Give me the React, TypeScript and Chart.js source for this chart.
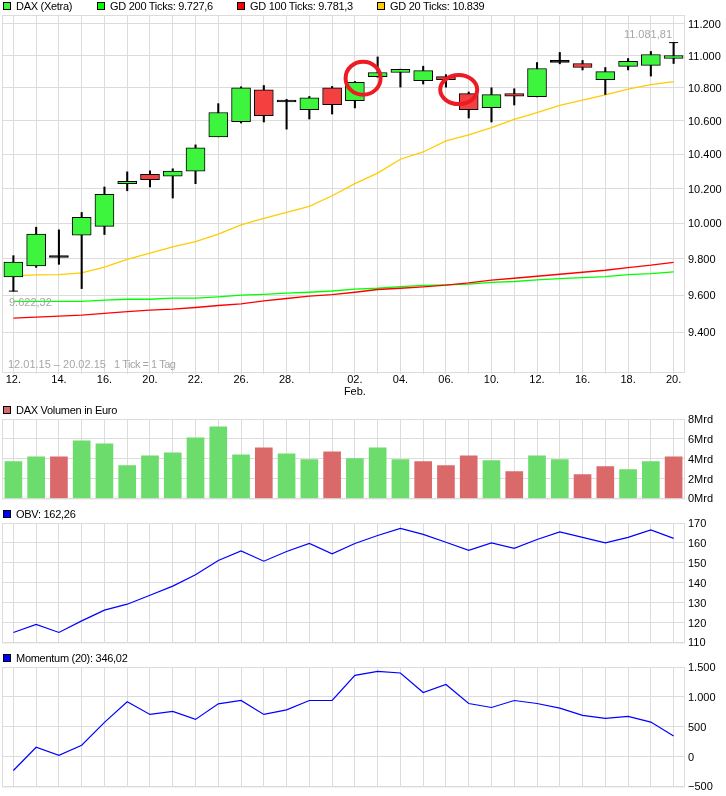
import { useEffect, useRef } from 'react'
import Chart from 'chart.js/auto'

const days = ['12.', '13.', '14.', '15.', '16.', '19.', '20.', '21.', '22.', '23.', '26.', '27.', '28.', '29.', '30.', '02.', '03.', '04.', '05.', '06.', '09.', '10.', '11.', '12.', '13.', '16.', '17.', '18.', '19.', '20.']
const shownDays = [0, 2, 4, 6, 8, 10, 12, 15, 17, 19, 21, 23, 25, 27, 29]

const opens = [9700, 9761, 9808, 9933, 9983, 10228, 10283, 10272, 10301, 10504, 10595, 10789, 10714, 10668, 10801, 10722, 10870, 10895, 10845, 10870, 10765, 10680, 10765, 10747, 10958, 10951, 10851, 10933, 10939, 10982]
const closes = [9783, 9939, 9818, 10034, 10167, 10242, 10252, 10301, 10438, 10650, 10801, 10631, 10726, 10740, 10698, 10834, 10895, 10914, 10907, 10851, 10668, 10759, 10750, 10920, 10970, 10926, 10901, 10964, 11007, 11001]
const highs = [9818, 9978, 9963, 10062, 10209, 10297, 10303, 10315, 10456, 10704, 10807, 10815, 10730, 10748, 10809, 10840, 10992, 10916, 10934, 10882, 10775, 10801, 10795, 10957, 11020, 10970, 10926, 10982, 11026, 11081.81]
const lows = [9622.32, 9753, 9770, 9636, 9937, 10187, 10209, 10145, 10228, 10504, 10587, 10593, 10550, 10611, 10641, 10678, 10866, 10805, 10824, 10805, 10617, 10593, 10696, 10745, 10949, 10911, 10760, 10911, 10873, 10951]
const dojis = [2, 12, 24]

const gd20 = [9706, 9712, 9713, 9723, 9754, 9797, 9832, 9867, 9897, 9939, 9991, 10028, 10062, 10097, 10158, 10228, 10290, 10371, 10414, 10480, 10516, 10559, 10609, 10649, 10694, 10726, 10757, 10792, 10820, 10839]
const gd100 = [9476, 9481, 9487, 9492, 9501, 9511, 9519, 9524, 9533, 9544, 9553, 9569, 9582, 9595, 9603, 9616, 9631, 9638, 9646, 9655, 9667, 9682, 9693, 9704, 9715, 9726, 9737, 9752, 9765, 9781.3]
const gd200 = [9566, 9566, 9566, 9566, 9573, 9578, 9578, 9584, 9584, 9591, 9600, 9605, 9611, 9616, 9623, 9633, 9638, 9647, 9654, 9657, 9661, 9670, 9675, 9684, 9691, 9696, 9702, 9713, 9718, 9727.6]

const volumes = [3.7, 4.2, 4.2, 5.8, 5.5, 3.3, 4.3, 4.6, 6.1, 7.2, 4.4, 5.1, 4.5, 3.9, 4.7, 4.0, 5.1, 3.9, 3.7, 3.3, 4.3, 3.8, 2.7, 4.3, 3.9, 2.4, 3.2, 2.9, 3.7, 4.2]
const volumeDown = [2, 11, 14, 18, 19, 20, 22, 25, 26, 29]

const obv = [115, 119, 115, 120.8, 126.2, 129.2, 133.7, 138.3, 144, 151.2, 156, 150.8, 155.7, 159.7, 154.5, 159.7, 163.7, 167.3, 164.3, 160.3, 156.3, 160, 157.3, 161.7, 165.5, 162.8, 160, 162.8, 166.5, 162.26]
const momentum = [-233, 156, 22, 189, 572, 917, 706, 756, 622, 883, 939, 706, 783, 939, 939, 1361, 1428, 1400, 1072, 1206, 889, 822, 939, 889, 811, 689, 639, 672, 578, 346.02]

const priceTicks = [11200, 11000, 10800, 10600, 10400, 10200, 10000, 9800, 9600, 9400]
const volumeTicks = [8, 6, 4, 2, 0]
const obvTicks = [170, 160, 150, 140, 130, 120, 110]
const momentumTicks = [1500, 1000, 500, 0, -500]

const GRID = '#dcdcdc'
const FONT = { family: '"Liberation Sans", Arial, sans-serif', size: 11 }
const CANDLE_UP = '#3df53d'
const CANDLE_DOWN = '#f54040'
const NOTE = '#a6a6a6'

// plot frame, the axes only give the inner lines
const framePlugin = {
  id: 'frame',
  beforeDatasetsDraw(chart: any) {
    const { ctx, chartArea: a } = chart
    ctx.save()
    ctx.strokeStyle = GRID
    ctx.lineWidth = 1
    ctx.strokeRect(a.left + 0.5, a.top + 0.5, a.right - a.left - 1, a.bottom - a.top)
    ctx.restore()
  },
}

// grey notes and the two hand drawn circles of the price panel
const notesPlugin = {
  id: 'notes',
  afterDatasetsDraw(chart: any) {
    const { ctx, scales } = chart
    ctx.save()
    ctx.font = `11px ${FONT.family}`
    ctx.fillStyle = NOTE
    ctx.textBaseline = 'middle'
    ctx.textAlign = 'left'
    ctx.fillText('12.01.15 – 20.02.15', 8, 365)
    ctx.fillText('9.622,32', 9, 303)
    ctx.letterSpacing = '-0.5px'
    ctx.fillText('1 Tick = 1 Tag', 114, 365)
    ctx.letterSpacing = '0px'
    ctx.textAlign = 'right'
    ctx.fillText('11.081,81', 672, 35)
    ctx.strokeStyle = '#ed1c24'
    ctx.lineWidth = 4
    ctx.beginPath()
    ctx.ellipse(scales.x.getPixelForValue(15.36), scales.y.getPixelForValue(10860), 17.5, 16.5, 0, 0, Math.PI * 2)
    ctx.stroke()
    ctx.beginPath()
    ctx.ellipse(scales.x.getPixelForValue(19.56), scales.y.getPixelForValue(10790), 18.5, 14.5, 0, 0, Math.PI * 2)
    ctx.stroke()
    ctx.restore()
  },
}

function panelOptions(yScale: any, paddingTop: number, paddingBottom: number, xHeight: number, showDays: boolean) {
  return {
    responsive: false,
    animation: false as const,
    devicePixelRatio: 1,
    layout: { autoPadding: false, padding: { left: 2, right: 0, top: paddingTop, bottom: paddingBottom } },
    plugins: { legend: { display: false }, tooltip: { enabled: false } },
    scales: {
      x: {
        offset: true,
        border: { display: false },
        grid: { color: GRID, offset: false, drawTicks: showDays, tickLength: 2, tickColor: GRID },
        ticks: {
          display: showDays,
          autoSkip: false,
          maxRotation: 0,
          padding: 0,
          color: '#000',
          font: { ...FONT, lineHeight: '12px' },
          callback: (_: any, i: number) => {
            if (!shownDays.includes(i)) return ''
            return i === 15 ? [days[i], 'Feb.'] : days[i]
          },
        },
        afterFit: (s: any) => { s.height = xHeight },
      },
      y: {
        position: 'right' as const,
        border: { display: false },
        grid: { color: GRID, drawTicks: false },
        ticks: {
          padding: 3,
          labelOffset: 1,
          color: '#000',
          font: FONT,
          autoSkip: false,
          callback: (v: number) => v.toLocaleString('de-DE').replace('-', '−'),
        },
        afterFit: (s: any) => { s.width = 41 },
        ...yScale,
      },
    },
  }
}

function fixedTicks(values: number[]) {
  return (s: any) => { s.ticks = values.map(value => ({ value })) }
}

function candleColor(i: number) {
  if (dojis.includes(i)) return '#000'
  return closes[i] < opens[i] ? CANDLE_DOWN : CANDLE_UP
}

const panels: { top: number; height: number; config: any; plugins: any[] }[] = [
  {
    top: 0,
    height: 396,
    plugins: [framePlugin, notesPlugin],
    config: {
      type: 'bar',
      data: {
        labels: days,
        datasets: [
          { type: 'line', data: gd20, borderColor: '#ffcc00', borderWidth: 1.3, pointRadius: 0, order: 5 },
          { type: 'line', data: gd200, borderColor: '#00ff00', borderWidth: 1.3, pointRadius: 0, order: 4 },
          { type: 'line', data: gd100, borderColor: '#ff0000', borderWidth: 1.3, pointRadius: 0, order: 3 },
          {
            data: days.map((_, i) => [lows[i], highs[i]]),
            backgroundColor: '#000',
            borderWidth: 0,
            barThickness: 1.4,
            grouped: false,
            order: 2,
          },
          {
            data: days.map((_, i) => [opens[i], closes[i]]),
            backgroundColor: days.map((_, i) => candleColor(i)),
            borderColor: '#000',
            borderWidth: 1,
            borderSkipped: false,
            barThickness: 19,
            grouped: false,
            order: 1,
          },
          {
            type: 'line',
            data: days.map((_, i) => (i === 0 ? lows[i] : i === 29 ? highs[i] : null)),
            showLine: false,
            pointStyle: 'line',
            pointRadius: 4.5,
            pointBorderColor: '#000',
            pointBorderWidth: 1,
            order: 0,
          },
        ],
      },
      options: panelOptions(
        { type: 'logarithmic', min: 9190, max: 11257, afterBuildTicks: fixedTicks(priceTicks) },
        15, 0, 24, true,
      ),
    },
  },
  {
    top: 396,
    height: 112,
    plugins: [framePlugin],
    config: {
      type: 'bar',
      data: {
        labels: days,
        datasets: [{
          data: volumes,
          backgroundColor: days.map((_, i) => (volumeDown.includes(i) ? '#da6a6a' : '#6cdc6c')),
          barThickness: 17,
        }],
      },
      options: panelOptions(
        {
          min: 0,
          max: 8,
          afterBuildTicks: fixedTicks(volumeTicks),
          ticks: { padding: 3, labelOffset: 1, color: '#000', font: FONT, callback: (v: number) => `${v}Mrd` },
        },
        23, 9, 0, false,
      ),
    },
  },
  {
    top: 508,
    height: 144,
    plugins: [framePlugin],
    config: {
      type: 'line',
      data: {
        labels: days,
        datasets: [{ data: obv, borderColor: '#0000ff', borderWidth: 1.2, pointRadius: 0 }],
      },
      options: panelOptions({ min: 110, max: 170, afterBuildTicks: fixedTicks(obvTicks) }, 15, 9, 0, false),
    },
  },
  {
    top: 652,
    height: 144,
    plugins: [framePlugin],
    config: {
      type: 'line',
      data: {
        labels: days,
        datasets: [{ data: momentum, borderColor: '#0000ff', borderWidth: 1.2, pointRadius: 0 }],
      },
      options: panelOptions({ min: -500, max: 1500, afterBuildTicks: fixedTicks(momentumTicks) }, 15, 9, 0, false),
    },
  },
]

const legends = [
  { label: 'DAX (Xetra)', color: CANDLE_UP, x: 3, y: 6 },
  { label: 'GD 200 Ticks: 9.727,6', color: '#00ff00', x: 97, y: 6 },
  { label: 'GD 100 Ticks: 9.781,3', color: '#ff0000', x: 237, y: 6 },
  { label: 'GD 20 Ticks: 10.839', color: '#ffcc00', x: 377, y: 6 },
  { label: 'DAX Volumen in Euro', color: '#da6a6a', x: 3, y: 410 },
  { label: 'OBV: 162,26', color: '#0000ff', x: 3, y: 514 },
  { label: 'Momentum (20): 346,02', color: '#0000ff', x: 3, y: 658 },
]

function Panel(props: { top: number; height: number; config: any; plugins: any[] }) {
  const { top, height, config, plugins } = props
  const canvasRef = useRef<HTMLCanvasElement | null>(null)

  useEffect(() => {
    if (!canvasRef.current) return
    const chart = new Chart(canvasRef.current, { ...config, plugins })
    return () => chart.destroy()
  }, [])

  return (
    <canvas
      ref={canvasRef}
      width={726}
      height={height}
      style={{ position: 'absolute', left: 0, top, width: 726, height }}
    />
  )
}

export default function App() {
  return (
    <div style={{ position: 'absolute', left: 0, top: 0, width: 726, height: 796, overflow: 'hidden', background: '#fff' }}>
      {panels.map(p => <Panel key={p.top} {...p} />)}
      {legends.map(l => (
        <div key={l.label} style={{ position: 'absolute', left: l.x, top: l.y - 7, height: 14, display: 'flex', alignItems: 'center', font: `11px ${FONT.family}`, letterSpacing: '-0.28px', color: '#000', whiteSpace: 'nowrap' }}>
          <span style={{ display: 'inline-block', boxSizing: 'border-box', width: 8, height: 8, background: l.color, border: '1px solid #000', marginRight: 5 }} />
          {l.label}
        </div>
      ))}
    </div>
  )
}
